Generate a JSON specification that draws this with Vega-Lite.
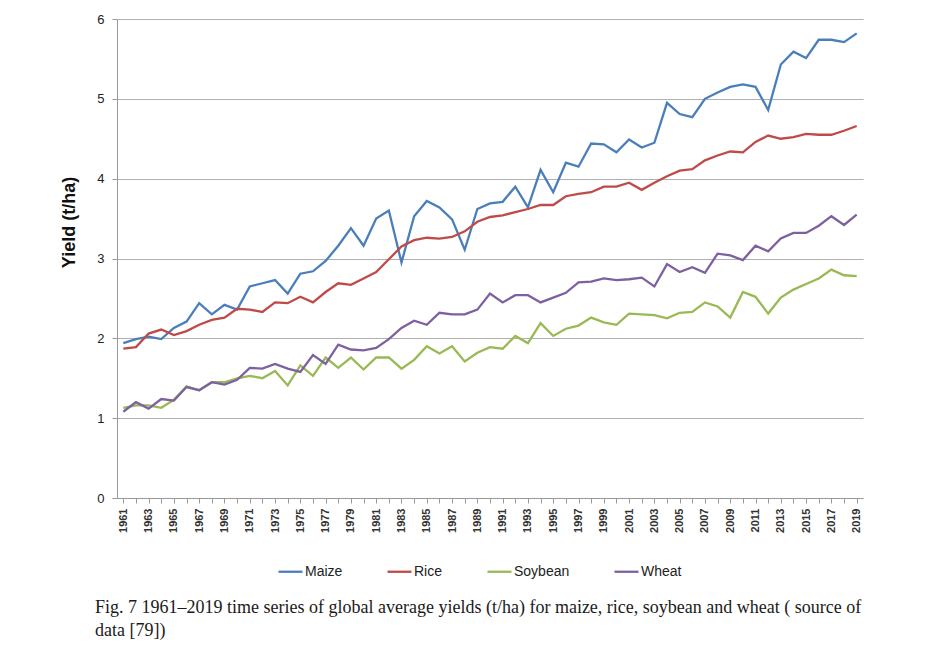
{
  "$schema": "https://vega.github.io/schema/vega-lite/v6.json",
  "autosize": {"type": "none"},
  "padding": {"left": 117, "top": 19, "right": 71, "bottom": 171},
  "width": 746,
  "height": 479,
  "background": "white",
  "config": {"view": {"stroke": null}},
  "data": {"values": [
    {"year":1961,"Maize":1.94,"Rice":1.87,"Soybean":1.13,"Wheat":1.08},
    {"year":1962,"Maize":1.99,"Rice":1.89,"Soybean":1.16,"Wheat":1.20},
    {"year":1963,"Maize":2.02,"Rice":2.06,"Soybean":1.16,"Wheat":1.12},
    {"year":1964,"Maize":1.99,"Rice":2.11,"Soybean":1.13,"Wheat":1.24},
    {"year":1965,"Maize":2.13,"Rice":2.04,"Soybean":1.23,"Wheat":1.22},
    {"year":1966,"Maize":2.21,"Rice":2.09,"Soybean":1.40,"Wheat":1.39},
    {"year":1967,"Maize":2.44,"Rice":2.17,"Soybean":1.35,"Wheat":1.35},
    {"year":1968,"Maize":2.30,"Rice":2.23,"Soybean":1.45,"Wheat":1.45},
    {"year":1969,"Maize":2.42,"Rice":2.26,"Soybean":1.45,"Wheat":1.42},
    {"year":1970,"Maize":2.36,"Rice":2.37,"Soybean":1.50,"Wheat":1.48},
    {"year":1971,"Maize":2.65,"Rice":2.36,"Soybean":1.53,"Wheat":1.63},
    {"year":1972,"Maize":2.69,"Rice":2.33,"Soybean":1.50,"Wheat":1.62},
    {"year":1973,"Maize":2.73,"Rice":2.45,"Soybean":1.59,"Wheat":1.68},
    {"year":1974,"Maize":2.56,"Rice":2.44,"Soybean":1.41,"Wheat":1.62},
    {"year":1975,"Maize":2.81,"Rice":2.52,"Soybean":1.66,"Wheat":1.58},
    {"year":1976,"Maize":2.84,"Rice":2.45,"Soybean":1.53,"Wheat":1.79},
    {"year":1977,"Maize":2.97,"Rice":2.58,"Soybean":1.76,"Wheat":1.68},
    {"year":1978,"Maize":3.16,"Rice":2.69,"Soybean":1.63,"Wheat":1.92},
    {"year":1979,"Maize":3.38,"Rice":2.67,"Soybean":1.76,"Wheat":1.86},
    {"year":1980,"Maize":3.16,"Rice":2.75,"Soybean":1.61,"Wheat":1.85},
    {"year":1981,"Maize":3.50,"Rice":2.83,"Soybean":1.76,"Wheat":1.88},
    {"year":1982,"Maize":3.60,"Rice":2.99,"Soybean":1.76,"Wheat":1.99},
    {"year":1983,"Maize":2.95,"Rice":3.15,"Soybean":1.62,"Wheat":2.13},
    {"year":1984,"Maize":3.53,"Rice":3.23,"Soybean":1.73,"Wheat":2.22},
    {"year":1985,"Maize":3.72,"Rice":3.26,"Soybean":1.90,"Wheat":2.17},
    {"year":1986,"Maize":3.64,"Rice":3.25,"Soybean":1.81,"Wheat":2.32},
    {"year":1987,"Maize":3.49,"Rice":3.27,"Soybean":1.90,"Wheat":2.30},
    {"year":1988,"Maize":3.11,"Rice":3.34,"Soybean":1.71,"Wheat":2.30},
    {"year":1989,"Maize":3.62,"Rice":3.46,"Soybean":1.82,"Wheat":2.36},
    {"year":1990,"Maize":3.69,"Rice":3.52,"Soybean":1.89,"Wheat":2.56},
    {"year":1991,"Maize":3.71,"Rice":3.54,"Soybean":1.87,"Wheat":2.45},
    {"year":1992,"Maize":3.90,"Rice":3.58,"Soybean":2.03,"Wheat":2.54},
    {"year":1993,"Maize":3.64,"Rice":3.62,"Soybean":1.94,"Wheat":2.54},
    {"year":1994,"Maize":4.11,"Rice":3.67,"Soybean":2.19,"Wheat":2.45},
    {"year":1995,"Maize":3.83,"Rice":3.67,"Soybean":2.03,"Wheat":2.51},
    {"year":1996,"Maize":4.20,"Rice":3.78,"Soybean":2.12,"Wheat":2.57},
    {"year":1997,"Maize":4.15,"Rice":3.81,"Soybean":2.16,"Wheat":2.70},
    {"year":1998,"Maize":4.44,"Rice":3.83,"Soybean":2.26,"Wheat":2.71},
    {"year":1999,"Maize":4.43,"Rice":3.90,"Soybean":2.20,"Wheat":2.75},
    {"year":2000,"Maize":4.33,"Rice":3.90,"Soybean":2.17,"Wheat":2.73},
    {"year":2001,"Maize":4.49,"Rice":3.95,"Soybean":2.31,"Wheat":2.74},
    {"year":2002,"Maize":4.39,"Rice":3.86,"Soybean":2.30,"Wheat":2.76},
    {"year":2003,"Maize":4.45,"Rice":3.95,"Soybean":2.29,"Wheat":2.65},
    {"year":2004,"Maize":4.95,"Rice":4.03,"Soybean":2.25,"Wheat":2.93},
    {"year":2005,"Maize":4.81,"Rice":4.10,"Soybean":2.32,"Wheat":2.83},
    {"year":2006,"Maize":4.77,"Rice":4.12,"Soybean":2.33,"Wheat":2.89},
    {"year":2007,"Maize":5.00,"Rice":4.23,"Soybean":2.45,"Wheat":2.82},
    {"year":2008,"Maize":5.08,"Rice":4.29,"Soybean":2.40,"Wheat":3.06},
    {"year":2009,"Maize":5.15,"Rice":4.34,"Soybean":2.26,"Wheat":3.04},
    {"year":2010,"Maize":5.18,"Rice":4.33,"Soybean":2.58,"Wheat":2.98},
    {"year":2011,"Maize":5.15,"Rice":4.46,"Soybean":2.52,"Wheat":3.16},
    {"year":2012,"Maize":4.86,"Rice":4.54,"Soybean":2.31,"Wheat":3.09},
    {"year":2013,"Maize":5.43,"Rice":4.50,"Soybean":2.51,"Wheat":3.25},
    {"year":2014,"Maize":5.59,"Rice":4.52,"Soybean":2.61,"Wheat":3.32},
    {"year":2015,"Maize":5.51,"Rice":4.56,"Soybean":2.68,"Wheat":3.32},
    {"year":2016,"Maize":5.74,"Rice":4.55,"Soybean":2.75,"Wheat":3.41},
    {"year":2017,"Maize":5.74,"Rice":4.55,"Soybean":2.86,"Wheat":3.53},
    {"year":2018,"Maize":5.71,"Rice":4.60,"Soybean":2.79,"Wheat":3.42},
    {"year":2019,"Maize":5.82,"Rice":4.66,"Soybean":2.78,"Wheat":3.55}
  ]},
  "transform": [{"fold": ["Maize", "Rice", "Soybean", "Wheat"], "as": ["crop", "yield"]}],
  "title": {
    "text": ["Fig. 7 1961–2019 time series of global average yields (t/ha) for maize, rice, soybean and wheat ( source of", "data [79])"],
    "orient": "bottom",
    "anchor": "start",
    "frame": "group",
    "font": "Liberation Serif",
    "fontSize": 18,
    "fontWeight": "normal",
    "color": "#1a1a1a",
    "lineHeight": 23,
    "dx": -22,
    "offset": 20
  },
  "mark": {"type": "line", "strokeWidth": 2.3},
  "encoding": {
    "x": {
      "field": "year",
      "type": "ordinal",
      "scale": {"type": "point", "padding": 0.5},
      "axis": {
        "title": null,
        "labelAngle": -90,
        "labelAlign": "right",
        "labelBaseline": "middle",
        "labelExpr": "datum.value % 2 == 1 ? datum.label : ''",
        "labelOverlap": false,
        "labelFont": "Liberation Sans",
        "labelFontSize": 11,
        "labelFontWeight": "bold",
        "labelColor": "#333333",
        "labelPadding": 5,
        "tickSize": 5,
        "tickColor": "#999999",
        "domainColor": "#999999",
        "grid": false
      }
    },
    "y": {
      "field": "yield",
      "type": "quantitative",
      "scale": {"domain": [0, 6]},
      "axis": {
        "title": "Yield (t/ha)",
        "titleFont": "Liberation Sans",
        "titleFontSize": 18,
        "titleFontWeight": "bold",
        "titleColor": "#111111",
        "titlePadding": 18,
        "titleY": 203,
        "values": [0, 1, 2, 3, 4, 5, 6],
        "labelFont": "Liberation Sans",
        "labelFontSize": 13,
        "labelColor": "#222222",
        "labelPadding": 8,
        "tickSize": 5,
        "tickColor": "#999999",
        "domainColor": "#999999",
        "gridColor": "#b0b0b0",
        "gridWidth": 1.2
      }
    },
    "color": {
      "field": "crop",
      "type": "nominal",
      "scale": {"domain": ["Maize", "Rice", "Soybean", "Wheat"], "range": ["#4a7ebb", "#be4b48", "#98b954", "#7d60a0"]},
      "legend": {
        "title": null,
        "orient": "none",
        "direction": "horizontal",
        "legendX": 160,
        "legendY": 539,
        "symbolType": "stroke",
        "symbolSize": 576,
        "symbolStrokeWidth": 2.3,
        "labelFont": "Liberation Sans",
        "labelFontSize": 14,
        "labelColor": "#222222",
        "labelOffset": 1,
        "columnPadding": 39
      }
    }
  }
}
